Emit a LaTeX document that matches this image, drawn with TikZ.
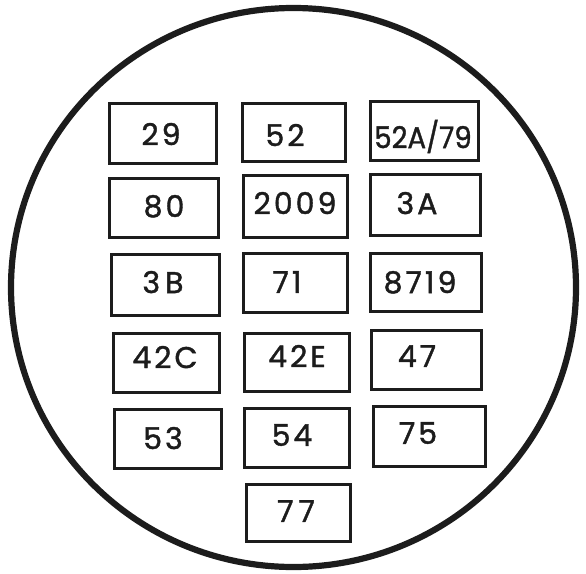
\documentclass[tikz,border=0pt]{standalone}
\usepackage{fontspec}
\usetikzlibrary{positioning}
\newfontfamily\platefont[LetterSpace=10,FakeBold=1.3]{Poppins}
\newfontfamily\tightfont[FakeBold=1.3]{Poppins}
\definecolor{Ink}{HTML}{1C1C1C}
\tikzset{
  rim/.style={draw=Ink,line width=6.2pt},
  fuse/.style={draw=Ink,line width=2.9pt,inner sep=0pt},
  num/.style={font=\platefont\fontsize{30}{30}\selectfont,text=Ink,inner sep=0pt,text depth=0pt}
}
\begin{document}
\begin{tikzpicture}[x=1pt,y=-1pt]
  \useasboundingbox (0,0) rectangle (586,573);
  % outer ring
  \draw[rim] (293.5,287.5) ellipse [x radius=282.5,y radius=279.5];
  % first row
  \node[fuse,minimum width=107,minimum height=60] (b29) at (163,133.5) {};
  \node[fuse,minimum width=103,minimum height=58] (b52) at (294,132.5) {};
  \node[fuse,minimum width=108,minimum height=59] (b52a) at (424.5,131) {};
  \node[num] (t29) at (161,134) {29};
  \node[num] (t52) at (285,135) {52};
  \node[num,font=\tightfont\fontsize{30}{30}\selectfont] (t52a) at (423,134) {\scalebox{0.92}[1]{52A/79}};
  % second row
  \node[fuse,minimum width=109,minimum height=59] (b80) at (164,208) {};
  \node[fuse,minimum width=104,minimum height=62] (b2009) at (295.5,206.5) {};
  \node[fuse,minimum width=110,minimum height=61] (b3a) at (425.5,205) {};
  \node[num] (t80) at (164,206) {80};
  \node[num] (t2009) at (295,203) {2009};
  \node[num] (t3a) at (417,203) {3A};
  % third row
  \node[fuse,minimum width=108,minimum height=61] (b3b) at (165.5,285) {};
  \node[fuse,minimum width=104,minimum height=59] (b71) at (295.5,283) {};
  \node[fuse,minimum width=111,minimum height=58] (b8719) at (426,282.5) {};
  \node[num] (t3b) at (163,282) {3\,B};
  \node[num] (t71) at (287,282) {71};
  \node[num] (t8719) at (420,282) {8719};
  % fourth row
  \node[fuse,minimum width=106,minimum height=59] (b42c) at (166.5,363) {};
  \node[fuse,minimum width=105,minimum height=58] (b42e) at (297,362.5) {};
  \node[fuse,minimum width=110,minimum height=59] (b47) at (426.5,360) {};
  \node[num] (t42c) at (165,357) {42C};
  \node[num] (t42e) at (297,356) {42E};
  \node[num] (t47) at (417,356) {47};
  % fifth row
  \node[fuse,minimum width=107,minimum height=59] (b53) at (168,439) {};
  \node[fuse,minimum width=105,minimum height=59] (b54) at (297,438) {};
  \node[fuse,minimum width=112,minimum height=60] (b75) at (429.5,436.5) {};
  \node[num] (t53) at (163,438) {53};
  \node[num] (t54) at (292,435) {54};
  \node[num] (t75) at (418,433) {75};
  % last one
  \node[fuse,minimum width=104,minimum height=57] (b77) at (298.5,513) {};
  \node[num] (t77) at (296,511) {7\,7};
\end{tikzpicture}
\end{document}
